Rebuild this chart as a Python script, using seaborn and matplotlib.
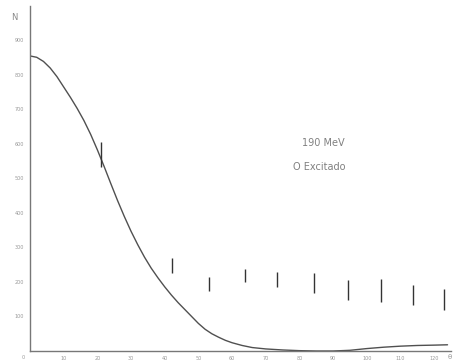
import matplotlib
matplotlib.use("Agg")
import matplotlib.pyplot as plt
import seaborn as sns
import pandas as pd

# Theoretical curve (angle in degrees, counts N)
curve_angle = [0, 2, 4, 6, 8, 10, 12, 14, 16, 18, 20, 22, 24, 26, 28, 30, 32, 34,
               36, 38, 40, 42, 44, 46, 48, 50, 52, 54, 56, 58, 60, 63, 66, 70,
               75, 80, 85, 90, 95, 100, 105, 110, 115, 120, 124]
curve_n = [855, 851, 839, 820, 795, 765, 735, 703, 668, 628, 583, 535, 485, 436,
           390, 347, 308, 272, 240, 212, 186, 162, 140, 120, 100, 80, 63, 50,
           40, 31, 24, 16, 10, 6, 3, 1, 0, 0, 2, 7, 11, 14, 16, 17, 18]

# Measured points with errors
data_angle = [21.1, 42.1, 53.1, 63.8, 73.3, 84.3, 94.4, 104.2, 113.6, 123.1]
data_n = [569, 248, 194, 219, 207, 197, 177, 175, 162, 150]
data_err = [36, 22, 20, 19, 21, 29, 29, 33, 29, 30]

x_ticks = [10, 20, 30, 40, 50, 60, 70, 80, 90, 100, 110, 120]
y_ticks = [100, 200, 300, 400, 500, 600, 700, 800, 900]

sns.set_theme(style="white")
plt.rcParams['font.family'] = ['DejaVu Sans']

fig = plt.figure(figsize=(4.56, 3.61), dpi=100)
ax = fig.add_axes([0.0658, 0.0277, 0.923, 0.956])

df = pd.DataFrame({"angle": curve_angle, "N": curve_n})
sns.lineplot(data=df, x="angle", y="N", ax=ax, color="#505050", linewidth=1.0)

ax.errorbar(data_angle, data_n, yerr=data_err, fmt="none", ecolor="#333333",
            elinewidth=1.0, capsize=0)

ax.set_xlim(0, 125)
ax.set_ylim(0, 1000)
ax.set_xticks(x_ticks)
ax.set_xticklabels([str(v) for v in x_ticks])
ax.set_yticks(y_ticks)
ax.set_yticklabels([str(v) for v in y_ticks])
ax.set_xlabel("")
ax.set_ylabel("")

for s in ["top", "right"]:
    ax.spines[s].set_visible(False)
for s in ["left", "bottom"]:
    ax.spines[s].set_color("#777777")
    ax.spines[s].set_linewidth(1.0)

ax.tick_params(axis="both", direction="inout", length=5, width=0.8,
               colors="#888888", labelsize=3.5, labelcolor="#999999", pad=1)
ax.tick_params(axis="y", pad=2)

# origin label and axis titles
ax.text(-2, -18, "0", fontsize=3.5, color="#999999", ha="center", va="center",
        clip_on=False)
fig.text(14 / 456, 1 - 17 / 361, "N", fontsize=6, color="#888888",
         ha="center", va="center")
fig.text(450 / 456, 1 - 357 / 361, "θ", fontsize=5, color="#999999",
         ha="center", va="center")

ax.text(87.2, 603, "190 MeV", fontsize=7, color="#808080", ha="center", va="center")
ax.text(86.0, 533, "O Excitado", fontsize=7, color="#808080", ha="center", va="center")

fig.savefig("out.png", dpi=100, facecolor="white")
